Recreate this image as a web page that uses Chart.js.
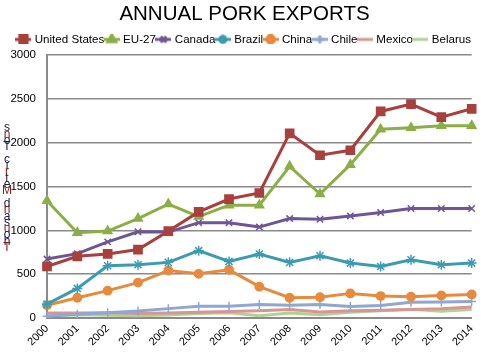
<!DOCTYPE html>
<html>
<head>
<meta charset="utf-8">
<script src="https://cdn.jsdelivr.net/npm/chart.js@4/dist/chart.umd.min.js"></script>
<style>
html,body{margin:0;padding:0;background:#fff;}
#wrap{width:485px;height:356px;position:relative;}
</style>
</head>
<body>
<div id="wrap"><canvas id="c" width="485" height="356"></canvas></div>
<script>
const years = ['2000','2001','2002','2003','2004','2005','2006','2007','2008','2009','2010','2011','2012','2013','2014'];
const unitedStates = [588,704,731,781,992,1211,1358,1427,2108,1858,1915,2358,2442,2292,2388];
const eu27 = [1338,973,992,1135,1300,1158,1288,1288,1731,1415,1750,2154,2173,2196,2196];
const canada = [673,735,869,985,981,1088,1088,1038,1135,1127,1165,1204,1250,1250,1250];
const brazil = [158,338,596,608,635,769,646,731,635,711,627,588,665,608,627];
const china = [146,231,312,404,542,504,550,358,231,238,281,250,242,258,269];
const chile = [19,42,61,80,107,134,134,153,146,153,130,142,180,184,188];
const mexico = [57,57,61,50,57,65,73,84,96,69,84,88,96,107,126];
const belarus = [27,38,31,27,34,50,61,27,57,38,65,84,100,77,96];
const yTicks = [0,500,1000,1500,2000,2500,3000];
const chartTitle = 'ANNUAL PORK EXPORTS';
const yTitle = 'Thousand Metric Tons';

const series = [
  {label:'United States', data:unitedStates, color:'#A8403E', style:'rect', r:5.8},
  {label:'EU-27', data:eu27, color:'#8BAF45', style:'triangle', r:5},
  {label:'Canada', data:canada, color:'#6E5595', style:'crossRot', r:4.5},
  {label:'Brazil', data:brazil, color:'#3B9BB1', style:'star', r:5},
  {label:'China', data:china, color:'#E88A3C', style:'circle', r:4.2},
  {label:'Chile', data:chile, color:'#8FA7D3', style:'cross', r:4.5},
  {label:'Mexico', data:mexico, color:'#D79594', style:false, r:0},
  {label:'Belarus', data:belarus, color:'#B3D095', style:false, r:0}
];

const FONT = '"Liberation Sans", Arial, sans-serif';

function legendIcon(s){
  const c = document.createElement('canvas');
  c.width = 16; c.height = 10;
  const ctx = c.getContext('2d');
  ctx.strokeStyle = s.color; ctx.lineWidth = 3;
  ctx.beginPath(); ctx.moveTo(0,5); ctx.lineTo(16,5); ctx.stroke();
  if (s.style) {
    ctx.fillStyle = s.color; ctx.strokeStyle = s.color;
    Chart.helpers.drawPoint(ctx, {pointStyle:s.style, radius:s.r*0.9, borderWidth:1.5}, 8, 5);
  }
  return c;
}

const yTitlePlugin = {
  id:'yTitle',
  afterDraw(chart){
    const ctx = chart.ctx;
    ctx.save();
    ctx.font = '12px ' + FONT;
    ctx.textAlign = 'center';
    ctx.textBaseline = 'middle';
    const chars = yTitle.split('').reverse();
    const top = 128, step = 6.3;
    chars.forEach((ch,i)=>{
      ctx.fillStyle = (i % 3 === 1) ? '#8B1A1A' : '#1A1A3A';
      ctx.fillText(ch, 7, top + i*step);
    });
    ctx.restore();
  }
};

const ctxEl = document.getElementById('c');
const chart = new Chart(ctxEl, {
  type:'line',
  data:{
    labels:years,
    datasets:series.map(s=>({
      label:s.label,
      data:s.data,
      borderColor:s.color,
      backgroundColor:s.color,
      borderWidth:3,
      pointStyle:s.style || 'circle',
      pointRadius:s.r,
      pointHoverRadius:s.r,
      pointBorderWidth:1.5,
      tension:0,
      fill:false
    }))
  },
  options:{
    responsive:false,
    animation:false,
    devicePixelRatio:1,
    layout:{padding:{left:7,right:3,top:2,bottom:0}},
    plugins:{
      title:{display:true,text:chartTitle,color:'#000',
        font:{family:FONT,size:20.5,weight:'normal'},
        padding:{top:0,bottom:5}},
      legend:{display:true,position:'top',
        labels:{
          usePointStyle:true,
          pointStyleWidth:11,
          boxHeight:10,
          padding:2,
          color:'#000',
          font:{family:FONT,size:11.6},
          generateLabels(chart){
            return series.map((s,i)=>({
              text:s.label,
              pointStyle:legendIcon(s),
              fillStyle:s.color,
              strokeStyle:s.color,
              lineWidth:0,
              datasetIndex:i,
              hidden:false
            }));
          }
        }
      },
      tooltip:{enabled:false}
    },
    scales:{
      x:{
        grid:{display:false,drawTicks:false},
        border:{display:true,color:'#8a8a8a',width:2},
        ticks:{color:'#000',minRotation:45,maxRotation:45,padding:4,
          font:{family:FONT,size:11}},
        afterFit(s){ s.height = 38; }
      },
      y:{
        min:0,max:3000,
        afterBuildTicks(s){ s.ticks = yTicks.map(v=>({value:v})); },
        grid:{color:'#8a8a8a',lineWidth:1.6,drawTicks:false},
        border:{display:true,color:'#8a8a8a',width:2},
        ticks:{color:'#000',padding:11,
          font:{family:FONT,size:11.5},
          callback:(v)=>String(v)},
        afterFit(s){ s.width = 40; }
      }
    }
  },
  plugins:[yTitlePlugin]
});
</script>
</body>
</html>
